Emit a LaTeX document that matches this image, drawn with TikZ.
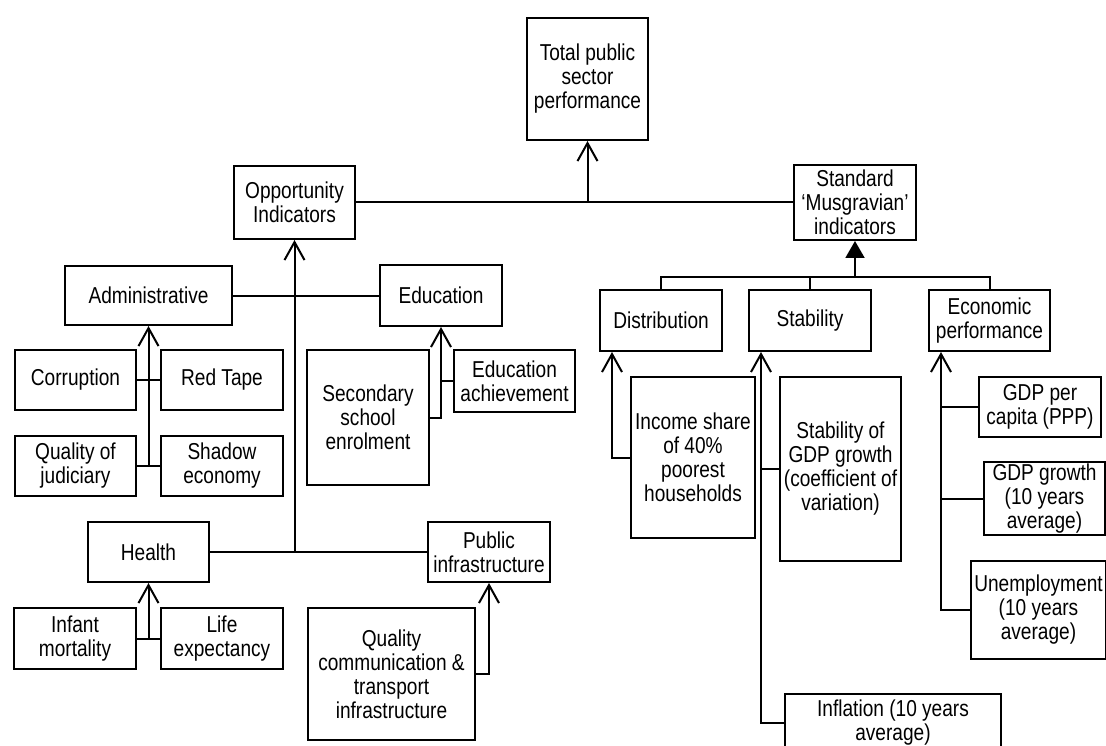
\documentclass[tikz,border=0pt]{standalone}
\usepackage{fontspec}
\setmainfont{Liberation Sans}[FakeStretch=0.83]
\usetikzlibrary{arrows.meta,calc}
\begin{document}
\begin{tikzpicture}[x=1pt,y=-1pt,
  box/.style={draw, line width=2pt, inner sep=0pt, align=center, anchor=north west,
    font=\fontsize{23}{24}\selectfont},
  conn/.style={line width=2pt},
  arr/.style={line width=2pt, -{Straight Barb[length=18pt,width=20pt]}},
  arrfill/.style={line width=2pt, -{Triangle[length=17pt,width=19pt]}}]
\useasboundingbox (0,0) rectangle (1106,746);
% top
\node[box, minimum width=121pt, minimum height=122pt] (total) at (526,17) {Total public\\sector\\performance};
\node[box, minimum width=121pt, minimum height=73pt] (opp) at (233,165) {Opportunity\\Indicators};
\node[box, minimum width=122pt, minimum height=75pt] (std) at (793,164) {Standard\\‘Musgravian’\\indicators};
% opportunity side
\node[box, minimum width=167pt, minimum height=59pt] (admin) at (64,265) {Administrative};
\node[box, minimum width=122pt, minimum height=61pt] (edu) at (379,264) {Education};
\node[box, minimum width=121pt, minimum height=60pt] (corr) at (14,349) {Corruption};
\node[box, minimum width=122pt, minimum height=60pt] (red) at (160,349) {Red Tape};
\node[box, minimum width=121pt, minimum height=60pt] (jud) at (14,435) {Quality of\\judiciary};
\node[box, minimum width=122pt, minimum height=60pt] (shadow) at (160,435) {Shadow\\economy};
\node[box, minimum width=122pt, minimum height=135pt] (sec) at (306,349) {Secondary\\school\\enrolment};
\node[box, minimum width=121pt, minimum height=62pt] (ach) at (453,349) {Education\\achievement};
\node[box, minimum width=121pt, minimum height=60pt] (health) at (87,521) {Health};
\node[box, minimum width=122pt, minimum height=60pt] (pubinf) at (427,521) {Public\\infrastructure};
\node[box, minimum width=122pt, minimum height=61pt] (inf) at (13,607) {Infant\\mortality};
\node[box, minimum width=122pt, minimum height=61pt] (life) at (160,607) {Life\\expectancy};
\node[box, minimum width=167pt, minimum height=132pt] (qc) at (307,607) {Quality\\communication \&\\transport\\infrastructure};
% standard side
\node[box, minimum width=122pt, minimum height=61pt] (dist) at (599,289) {Distribution};
\node[box, minimum width=122pt, minimum height=61pt] (stab) at (748,289) {Stability};
\node[box, minimum width=121pt, minimum height=61pt] (econ) at (928,289) {Economic\\performance};
\node[box, minimum width=124pt, minimum height=161pt] (inc) at (630,376) {Income share\\of 40\%\\poorest\\households};
\node[box, minimum width=121pt, minimum height=184pt] (sgdp) at (779,376) {Stability of\\GDP growth\\(coefficient of\\variation)};
\node[box, minimum width=122pt, minimum height=60pt] (gpc) at (978,376) {GDP per\\capita (PPP)};
\node[box, minimum width=121pt, minimum height=73pt] (gg) at (983,461) {GDP growth\\(10 years\\average)};
\node[box, minimum width=135pt, minimum height=98pt] (unemp) at (970,560) {Unemployment\\(10 years\\average)};
\node[box, minimum width=216pt, minimum height=57pt] (infl) at (784,693) {Inflation (10 years\\average)};
% connectors top
\draw[conn] (opp.east) -- (std.west);
\draw[arr] (opp.east -| total.south) -- (total.south);
% opportunity
\draw[conn] (admin.east) -- (admin.east -| edu.west);
\draw[conn] (health.east) -- (pubinf.west);
\draw[arr] (health.east -| opp.south) -- (opp.south);
\draw[conn] (corr.east) -- (red.west);
\draw[conn] (jud.east) -- (shadow.west);
\draw[arr] (jud.east -| admin.south) -- (admin.south);
\draw[arr] (sec.east) -| (edu.south);
\draw[conn] (ach.west) -- (ach.west -| edu.south);
\draw[conn] (inf.east) -- (life.west);
\draw[arr] (inf.east -| health.south) -- (health.south);
\draw[arr] (qc.east) -| (pubinf.south);
% standard
\coordinate (busy) at (0,277);
\draw[conn] (dist.north) -- (dist.north |- busy) -- (econ.north |- busy) -- (econ.north);
\draw[conn] (stab.north) -- (stab.north |- busy);
\draw[arrfill] (std.south |- busy) -- (std.south);
\coordinate (dx) at ([xshift=13pt]dist.south west);
\coordinate (sx) at ([xshift=13pt]stab.south west);
\coordinate (ex) at ([xshift=13pt]econ.south west);
\draw[arr] (inc.west) -| (dx);
\draw[arr] (infl.west) -| (sx);
\draw[conn] (sgdp.west) -- (sgdp.west -| sx);
\draw[arr] (unemp.west) -| (ex);
\draw[conn] (gpc.west) -- (gpc.west -| ex);
\draw[conn] (gg.west) -- (gg.west -| ex);
\end{tikzpicture}
\end{document}
